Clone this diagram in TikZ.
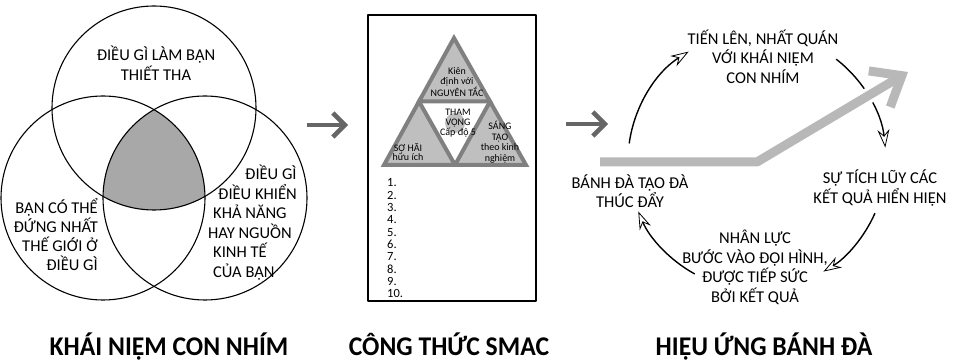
\documentclass[tikz,border=0pt]{standalone}
\usepackage{amsmath}
\usepackage{xcolor}
\usepackage{graphicx}
\usepackage{fontspec}
\setmainfont{Carlito}
\usepackage{tikz}
\usetikzlibrary{positioning,calc,arrows.meta}

\begin{document}
\begin{tikzpicture}[x=1pt, y=-1pt, line cap=round, line join=round]
	\useasboundingbox (0,0) rectangle (954,363);
	\tikzset{
		lbl/.style={inner sep=0pt, align=center, font=\fontsize{16.5}{19.5}\selectfont},
		paneltitle/.style={inner sep=0pt, anchor=base, font=\fontsize{27}{29}\selectfont\bfseries},
		tripart/.style={fill=black!25, draw=black!50, line width=4pt, line join=miter},
		trilbl/.style={inner sep=0pt, align=center, font=\fontsize{10}{9.8}\selectfont},
		listitem/.style={inner sep=0pt, anchor=west, font=\fontsize{12.5}{12.5}\selectfont},
		cyclearrow/.style={line width=1.4pt, -{Stealth[open, length=18pt, width=12pt, inset=6pt, line width=0.8pt]}},
		panelarrow/.style={line width=4.5pt, black!60, line cap=butt, -{Straight Barb[length=12pt, width=24pt]}}
	}
	
	% ---- khái niệm con nhím: ba vòng tròn ----
	\coordinate (T) at (154,108);
	\coordinate (L) at (103,198);
	\coordinate (R) at (205,198);
	\begin{scope}
		\clip (T) circle (102);
		\clip (L) circle (102);
		\fill[black!34] (R) circle (102);
	\end{scope}
	\draw[line width=1.1pt] (T) circle (102);
	\draw[line width=1.1pt] (L) circle (102);
	\draw[line width=1.1pt] (R) circle (102);
	
	\node[lbl] (thietha) at (156,63) {ĐIỀU GÌ LÀM BẠN\\THIẾT THA};
	\node[lbl, align=right, anchor=east, font=\fontsize{16.5}{19}\selectfont] (dungnhat) at (98,235)
		{BẠN CÓ THỂ\\ĐỨNG NHẤT\\THẾ GIỚI Ở\\ĐIỀU GÌ};
	\node[lbl, align=left, anchor=west] (kinhte) at (208,222.5)
		{\hspace*{37pt}ĐIỀU GÌ\\\hspace*{10pt}ĐIỀU KHIỂN\\\hspace*{5pt}KHẢ NĂNG\\HAY NGUỒN\\\hspace*{5pt}KINH TẾ\\\hspace*{5pt}CỦA BẠN};
	
	% ---- công thức smac ----
	\draw[line width=1.2pt] (368,15) rectangle (536,301);
	\coordinate (A) at (454,38);
	\coordinate (B) at (384,165);
	\coordinate (C) at (526,165);
	\coordinate (AB) at ($(A)!0.5!(B)$);
	\coordinate (AC) at ($(A)!0.5!(C)$);
	\coordinate (BC) at ($(B)!0.5!(C)$);
	\draw[tripart] (A) -- (AB) -- (AC) -- cycle;
	\draw[tripart] (AB) -- (B) -- (BC) -- cycle;
	\draw[tripart] (AC) -- (BC) -- (C) -- cycle;
	\fill[black!25] (455,123) circle (10);
	
	\node[trilbl] (nguyentac) at (457,82.5) {Kiên\\định với\\NGUYÊN TẮC};
	\node[trilbl] (thamvong) at (458,123) {THAM\\VỌNG\\Cấp độ 5};
	\node[trilbl] (sohai) at (408,152) {SỢ HÃI\\hữu ích};
	\node[trilbl, font=\fontsize{10}{10.6}\selectfont] (sangtao) at (500,142) {SÁNG\\TẠO\\theo kinh\\nghiệm};
	
	\foreach \i in {1,...,10}
		\node[listitem] (n\i) at (387,{170.7+12.3*\i}) {\i.};
	
	% ---- mũi tên giữa các phần ----
	\coordinate (p1s) at (307,125);
	\coordinate (p1e) at (348,125);
	\coordinate (p2s) at (566,124);
	\coordinate (p2e) at (608,124);
	\draw[panelarrow] (p1s) -- (p1e);
	\draw[panelarrow] (p2s) -- (p2e);
	
	% ---- hiệu ứng bánh đà ----
	\coordinate (F) at (757,161);
	\coordinate (a1) at ($(F)+(188:129)$);
	\coordinate (a2) at ($(F)+(308:129)$);
	\coordinate (a3) at ($(F)+(24:129)$);
	\coordinate (a4) at ($(F)+(119:129)$);
	\draw[cyclearrow] (a1) arc[start angle=188, end angle=238, radius=129];
	\draw[cyclearrow] (a2) arc[start angle=308, end angle=354, radius=129];
	\draw[cyclearrow] (a3) arc[start angle=24, end angle=59, radius=129];
	\draw[cyclearrow] (a4) arc[start angle=119, end angle=157, radius=129];
	
	\coordinate (g1) at (600,162);
	\coordinate (g2) at (757,162);
	\coordinate (g3) at (908,72);
	\draw[white, line width=16pt, line cap=butt] ($(g2)!0.4!(g3)$) -- ($(g2)!0.8!(g3)$);
	\draw[black!28, line width=9pt, line cap=butt, -{Straight Barb[length=26pt, width=42pt]}] (g1) -- (g2) -- (g3);
	
	\node[lbl] (tienlen) at (763,56.5) {TIẾN LÊN, NHẤT QUÁN\\VỚI KHÁI NIỆM\\CON NHÍM};
	\node[lbl] (tichluy) at (880,188) {SỰ TÍCH LŨY CÁC\\KẾT QUẢ HIỂN HIỆN};
	\node[lbl, font=\fontsize{16.5}{18.5}\selectfont] (banhda) at (630,191) {BÁNH ĐÀ TẠO ĐÀ\\THÚC ĐẨY};
	\node[lbl] (nhanluc) at (755,267.5) {NHÂN LỰC\\BƯỚC VÀO ĐỘI HÌNH,\\ĐƯỢC TIẾP SỨC\\BỞI KẾT QUẢ};
	
	% ---- tiêu đề ----
	\node[paneltitle] (t1) at (169,356) {\scalebox{0.95}[1]{KHÁI NIỆM CON NHÍM}};
	\node[paneltitle] (t2) at (449,356) {\scalebox{0.95}[1]{CÔNG THỨC SMAC}};
	\node[paneltitle] (t3) at (764,356) {\scalebox{0.95}[1]{HIỆU ỨNG BÁNH ĐÀ}};
\end{tikzpicture}
\end{document}
